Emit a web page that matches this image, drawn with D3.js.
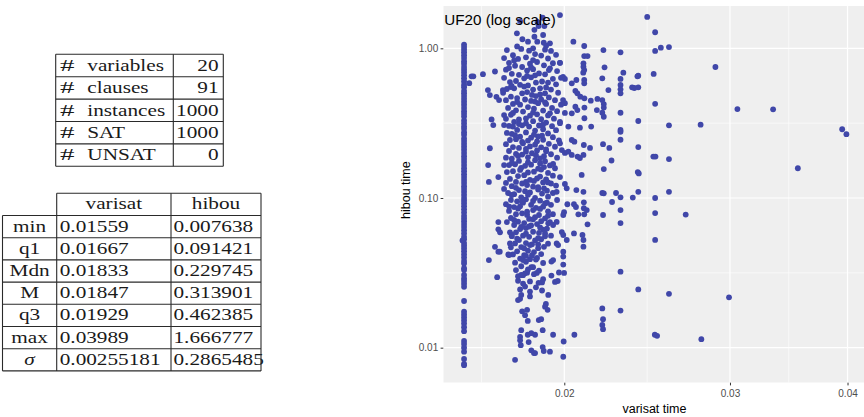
<!DOCTYPE html>
<html><head><meta charset="utf-8">
<script src="https://cdn.jsdelivr.net/npm/d3@7"></script>
<style>body{margin:0;background:#fff}svg{display:block}</style>
</head><body><svg id="c" width="864" height="417"></svg>
<script>
// ---------- table data ----------
const countLabels = ["variables", "clauses", "instances", "SAT", "UNSAT"];
const countValues = ["20", "91", "1000", "1000", "0"];
const statHeaders = ["varisat", "hibou"];
const statLabels = ["min", "q1", "Mdn", "M", "q3", "max", "σ"];
const statVarisat = ["0.01559", "0.01667", "0.01833", "0.01847", "0.01929", "0.03989", "0.00255181"];
const statHibou = ["0.007638", "0.091421", "0.229745", "0.313901", "0.462385", "1.666777", "0.2865485"];

// ---------- chart data ----------
const chartTitle = "UF20 (log scale)";
const xLabel = "varisat time";
const yLabel = "hibou time";
const xTicks = [0.02, 0.03, 0.04];
const yTicks = [0.01, 0.1, 1];

// vertical strip of runs at varisat ≈ 0.01565 s
const stripVarisat = 0.01565;
const stripHibou = [1.06,1.02,0.98,0.94,0.90,0.86,0.82,0.79,0.75,0.72,0.69,0.66,0.63,0.60,0.57,0.55,0.52,0.50,0.48,0.46,
0.44,0.42,0.40,0.38,0.365,0.35,0.33,0.315,0.30,0.29,0.275,0.265,0.25,0.24,0.23,0.22,0.21,0.20,0.19,0.182,
0.174,0.166,0.158,0.151,0.144,0.138,0.132,0.126,0.12,0.115,0.11,0.105,0.10,0.096,0.092,0.088,0.084,0.080,0.076,0.073,
0.070,0.067,0.064,0.061,0.058,0.055,0.053,0.050,0.048,0.046,0.044,0.042,0.040,0.038,0.0365,0.034,0.033,0.0306,0.029,0.0279,
0.0267,0.0255,0.0205,0.0174,0.0166,0.0159,0.0152,0.0145,0.0137,0.0129,0.0111,0.0106,0.0100,0.0094,0.0084,0.0078,0.007638];

// dense main cluster [varisat, hibou]
const clusterPoints = [
[0.01795,1.52],[0.01897,1.6],[0.01859,1.33],[0.01781,1.26],[0.01878,1.41],[0.01905,1.41],[0.01873,1.5],
[0.01805,1.15],[0.01859,1.195],[0.01899,1.227],[0.01872,1.107],[0.0183,1.107],[0.01902,1.09],[0.01931,1.08],
[0.01782,1.03],[0.01853,1.0],[0.01913,1.04],
[0.01738,0.974],[0.018,0.99],[0.01835,0.965],[0.01908,0.98],[0.01936,0.96],
[0.01764,0.90],[0.01862,0.915],[0.0189,0.895],[0.0196,0.905],
[0.01726,0.86],[0.01786,0.85],[0.01821,0.87],[0.01922,0.855],
[0.01747,0.80],[0.01839,0.79],[0.01871,0.81],[0.01945,0.795],[0.01979,0.80],
[0.01773,0.765],[0.01804,0.75],[0.01903,0.77],
[0.01734,0.72],[0.01826,0.71],[0.01853,0.725],[0.01926,0.715],[0.01965,0.705],
[0.01759,0.675],[0.0179,0.665],[0.0188,0.68],[0.01908,0.67],
[0.01726,0.635],[0.01813,0.63],[0.01844,0.64],[0.01945,0.625],[0.01984,0.635],
[0.01751,0.595],[0.01777,0.605],[0.01866,0.59],[0.01894,0.60],[0.01922,0.59],
[0.01795,0.57],[0.0183,0.565],[0.0196,0.575],
[0.01738,0.535],[0.01769,0.54],[0.01853,0.53],[0.01885,0.54],[0.01936,0.53],
[0.01722,0.505],[0.01804,0.50],[0.01826,0.51],[0.01908,0.50],[0.0197,0.505],
[0.01755,0.475],[0.01782,0.465],[0.01866,0.48],[0.01926,0.47],
[0.01734,0.45],[0.01817,0.455],[0.01844,0.445],[0.0189,0.455],[0.01955,0.45],
[0.01764,0.425],[0.01795,0.42],[0.01876,0.43],[0.01913,0.425],[0.01984,0.42],
[0.01743,0.40],[0.0183,0.405],[0.01857,0.395],[0.01941,0.40],
[0.01777,0.385],[0.01808,0.378],[0.01899,0.384],[0.01965,0.38],
[0.01755,0.36],[0.01839,0.355],[0.01871,0.362],[0.01922,0.356],
[0.01734,0.338],[0.0179,0.335],[0.01821,0.34],[0.0189,0.336],[0.0195,0.339],
[0.01769,0.322],[0.01853,0.326],[0.01913,0.319],[0.01979,0.323],
[0.01747,0.303],[0.01804,0.306],[0.01835,0.30],[0.0188,0.305],[0.01941,0.302],
[0.01782,0.285],[0.01862,0.282],[0.01899,0.288],[0.0196,0.284],
[0.01738,0.272],[0.01759,0.268],[0.01821,0.274],[0.01922,0.27],
[0.01795,0.257],[0.01844,0.253],[0.01876,0.258],[0.01945,0.255],
[0.01751,0.244],[0.01777,0.247],[0.0183,0.242],[0.01899,0.245],[0.01974,0.243],
[0.01734,0.229],[0.01808,0.232],[0.01862,0.227],[0.01926,0.23],
[0.01764,0.219],[0.0179,0.216],[0.01839,0.221],[0.0189,0.218],[0.01955,0.22],
[0.01747,0.206],[0.01821,0.204],[0.01871,0.208],[0.01913,0.205],
[0.01777,0.197],[0.01804,0.195],[0.01848,0.199],[0.01936,0.196],
[0.01734,0.186],[0.01759,0.183],[0.0183,0.187],[0.01885,0.184],[0.01965,0.186],
[0.0179,0.177],[0.01862,0.179],[0.01908,0.176],
[0.01747,0.166],[0.01773,0.168],[0.01817,0.164],[0.01844,0.167],[0.01931,0.165],
[0.018,0.159],[0.01876,0.157],[0.01903,0.161],[0.01955,0.158],
[0.01738,0.149],[0.01764,0.151],[0.0183,0.148],[0.01857,0.15],[0.01922,0.147],
[0.01786,0.14],[0.01813,0.142],[0.01885,0.139],[0.01945,0.141],
[0.01751,0.134],[0.01839,0.132],[0.01871,0.135],[0.01913,0.133],
[0.01734,0.126],[0.01777,0.128],[0.01804,0.125],[0.01899,0.127],[0.01936,0.125],
[0.01759,0.12],[0.01826,0.122],[0.01853,0.119],[0.0196,0.121],
[0.0179,0.113],[0.01817,0.111],[0.01876,0.114],[0.01917,0.112],
[0.01743,0.108],[0.01769,0.106],[0.01839,0.109],[0.01894,0.107],[0.01945,0.108],
[0.018,0.101],[0.01862,0.1],[0.01922,0.102],
[0.01755,0.097],[0.01782,0.095],[0.01821,0.098],[0.01885,0.096],[0.01965,0.097],
[0.01734,0.091],[0.01808,0.093],[0.01844,0.09],[0.01908,0.092],[0.01936,0.09],
[0.01769,0.087],[0.01795,0.088],[0.01866,0.086],[0.01899,0.0875],
[0.01747,0.082],[0.01826,0.081],[0.01853,0.083],[0.01922,0.0815],
[0.01777,0.078],[0.01804,0.079],[0.0188,0.077],[0.01945,0.078],
[0.01755,0.0735],[0.01835,0.0725],[0.01862,0.0745],[0.01908,0.073],
[0.01738,0.069],[0.01786,0.0695],[0.01813,0.068],[0.0189,0.07],[0.01931,0.069],
[0.01769,0.066],[0.01844,0.0655],[0.01871,0.067],
[0.01795,0.062],[0.01821,0.063],[0.01899,0.0615],[0.01917,0.0625],
[0.01777,0.059],[0.01853,0.0595],[0.0188,0.0585],
[0.01759,0.0556],[0.01808,0.056],[0.01835,0.055],[0.01908,0.0555],[0.01936,0.056],
[0.0179,0.0524],[0.01862,0.052],[0.0189,0.053],
[0.01773,0.0497],[0.01821,0.050],[0.01848,0.049],[0.01922,0.0495],
[0.01755,0.0468],[0.018,0.047],[0.01876,0.0462],[0.01903,0.0472],
[0.01782,0.044],[0.0183,0.0445],[0.01857,0.0435],
[0.01764,0.042],[0.01813,0.0415],[0.0189,0.0422],
[0.01795,0.0394],[0.01839,0.039],[0.01871,0.0398],
[0.01773,0.037],[0.01821,0.0375],[0.01899,0.0368],
[0.018,0.035],[0.01853,0.0345],
[0.01777,0.033],[0.0183,0.0333],[0.0188,0.0327],
[0.01808,0.0305],[0.01857,0.031],
[0.01786,0.028],[0.01839,0.0277],
[0.01817,0.0256],[0.01866,0.0253]
];

// additional overlapping runs in the core of the cluster [varisat, hibou]
const corePoints = [
[0.01853,0.835],[0.01769,0.83],[0.01747,0.739],[0.01844,0.745],[0.01931,0.735],
[0.01826,0.653],[0.01862,0.66],[0.01755,0.551],[0.01813,0.555],[0.01913,0.548],
[0.01848,0.488],[0.01885,0.492],[0.01782,0.438],[0.01862,0.441],[0.01908,0.435],
[0.01764,0.37],[0.01853,0.372],[0.01931,0.368],[0.0179,0.312],[0.01821,0.315],[0.01899,0.31],
[0.01773,0.263],[0.01857,0.265],[0.01894,0.261],[0.01804,0.237],[0.01871,0.239],
[0.01821,0.213],[0.01913,0.211],[0.01786,0.191],[0.01866,0.193],[0.01903,0.19],
[0.01759,0.171],[0.0183,0.173],[0.01885,0.17],[0.01795,0.154],[0.0189,0.155],
[0.01821,0.128],[0.01857,0.13],[0.01922,0.127],[0.01777,0.117],[0.01876,0.118],[0.01903,0.116],
[0.01759,0.1047],[0.0183,0.105],[0.01804,0.094],[0.01853,0.0955],[0.01917,0.093],
[0.01786,0.085],[0.01885,0.0845],[0.01826,0.0771],[0.01922,0.076],
[0.01769,0.0713],[0.01853,0.072],[0.018,0.064],[0.01835,0.0645],[0.01885,0.0635],
[0.01821,0.0577],[0.01908,0.058],[0.01782,0.0536],[0.01876,0.054],
[0.01839,0.0485],[0.01876,0.049],[0.01813,0.0461],[0.01848,0.0413],[0.01821,0.041],
[0.01808,0.0385],[0.01866,0.0388]
];

// scattered runs around and outside the cluster [varisat, hibou]
const outerPoints = [
[0.01559,0.052],[0.01594,0.65],[0.01585,0.585],
[0.01601,0.650],[0.01639,0.672],[0.01688,0.70],[0.01659,0.526],[0.01667,0.487],[0.01694,0.474],[0.01705,0.451],
[0.01721,0.526],[0.01758,0.56],[0.01674,0.335],[0.01681,0.307],[0.01726,0.358],[0.01726,0.307],[0.01764,0.30],
[0.01667,0.215],[0.0166,0.166],[0.01726,0.166],[0.01663,0.128],[0.01702,0.138],[0.01726,0.115],
[0.01748,0.0877],[0.01702,0.069],[0.01702,0.0618],[0.01709,0.059],[0.01751,0.059],[0.01758,0.0566],[0.01751,0.0497],
[0.01688,0.0472],[0.01702,0.0438],[0.01744,0.042],[0.01663,0.0385],[0.01708,0.0438],[0.01747,0.0416],[0.01697,0.0296],
[0.01786,0.030],[0.018,0.0306],[0.01817,0.0314],[0.01826,0.0317],[0.01845,0.0345],[0.01808,0.0268],[0.01878,0.0271],
[0.01795,0.0245],[0.01839,0.0237],[0.018,0.0225],[0.01795,0.0212],[0.01786,0.0208],[0.01839,0.022],
[0.01804,0.0175],[0.01817,0.0165],[0.01826,0.0179],[0.01829,0.0151],[0.01879,0.0153],[0.018,0.0131],
[0.01829,0.0122],[0.01845,0.0125],[0.01795,0.0118],[0.01795,0.0112],[0.01798,0.0104],[0.01833,0.0109],
[0.01845,0.0096],[0.01857,0.0092],[0.01773,0.0083],
[0.01979,1.666777],[0.0245,1.62],[0.02045,1.107],[0.021,1.036],[0.02201,0.974],[0.02295,0.94],
[0.021,0.888],[0.02117,0.888],[0.02096,0.794],[0.02096,0.753],[0.021,0.716],[0.02095,0.687],[0.02207,0.747],
[0.02311,0.687],[0.0206,0.614],[0.02037,0.584],[0.021,0.614],[0.021,0.584],[0.02195,0.630],
[0.02295,0.624],[0.02295,0.569],[0.02295,0.532],[0.02295,0.50],[0.02361,0.549],[0.02228,0.526],
[0.02055,0.52],[0.02065,0.50],[0.0208,0.475],[0.02101,0.463],[0.02134,0.447],[0.02169,0.459],
[0.02195,0.451],[0.02203,0.424],[0.02203,0.402],[0.02055,0.407],[0.02065,0.387],[0.02101,0.402],[0.02166,0.387],
[0.02195,0.371],[0.02203,0.349],[0.02295,0.371],[0.02037,0.368],[0.02101,0.341],[0.0202,0.30],[0.02136,0.30],[0.02295,0.285],
[0.01979,0.80],[0.01994,0.645],[0.02003,0.624],[0.01994,0.451],[0.02003,0.43],[0.02003,0.37],[0.01979,0.316],
[0.02498,1.28],[0.02498,0.96],[0.02533,1.01],[0.02584,1.02],[0.02895,0.75],[0.02397,0.656],[0.02392,0.65],
[0.02489,0.674],[0.02374,0.543],[0.02397,0.549],[0.02498,0.426],[0.03055,0.393],[0.03334,0.391],
[0.02397,0.327],[0.02584,0.306],[0.02792,0.309],[0.02295,0.277],[0.02295,0.245],[0.03948,0.288],[0.03989,0.267],
[0.02397,0.219],[0.02487,0.189],[0.025,0.189],[0.02584,0.182],[0.03542,0.158],[0.02394,0.149],[0.024,0.146],
[0.02295,0.101],[0.02365,0.1006],[0.02397,0.11],[0.02498,0.1],[0.02584,0.11],
[0.02295,0.0831],[0.02498,0.0793],[0.02692,0.0775],[0.02295,0.068],[0.02498,0.0525],[0.02295,0.0322],
[0.02397,0.0245],[0.02584,0.0229],[0.02993,0.0217],[0.02295,0.0177],[0.02496,0.0122],[0.0251,0.0120],[0.02797,0.0114],
[0.02078,0.295],[0.02199,0.229],[0.02233,0.216],[0.0213,0.216],[0.02098,0.226],[0.02037,0.244],[0.0205,0.238],
[0.01979,0.232],[0.01988,0.209],[0.02003,0.2],[0.0202,0.204],[0.02037,0.194],[0.02066,0.189],[0.02078,0.185],[0.02096,0.194],
[0.02245,0.178],[0.02203,0.156],[0.02087,0.1425],[0.01979,0.138],[0.01946,0.169],[0.02003,0.124],[0.02012,0.116],
[0.0206,0.113],[0.02096,0.11],[0.02195,0.108],[0.02203,0.1075],[0.0227,0.108],[0.01963,0.11],
[0.02015,0.0908],[0.02048,0.0908],[0.02058,0.0871],[0.02098,0.0936],[0.02098,0.0855],[0.02248,0.094],[0.02113,0.0831],
[0.01999,0.0804],[0.01995,0.077],[0.0207,0.0778],[0.021,0.0778],[0.02199,0.077],[0.02117,0.0667],
[0.01923,0.0677],[0.01946,0.066],[0.01963,0.0692],[0.01988,0.0592],[0.01995,0.0566],[0.02048,0.058],
[0.02091,0.0566],[0.02096,0.0524],[0.02012,0.0524],[0.01963,0.0497],[0.0197,0.0485],[0.02096,0.0473],[0.01995,0.0438],
[0.01995,0.0406],[0.01995,0.0359],[0.01946,0.0385],[0.01938,0.0376],[0.0187,0.0316],[0.01938,0.0303],
[0.01974,0.0318],[0.01999,0.0316],[0.01894,0.0273],[0.01899,0.0287],[0.01955,0.0275],[0.01968,0.0279],
[0.01894,0.0241],[0.01923,0.0225],[0.01912,0.0196],[0.01908,0.0188],[0.0192,0.0179],[0.02195,0.0183],
[0.0189,0.0155],[0.02199,0.0155],[0.02195,0.0142],[0.02199,0.0133],[0.01897,0.0131],[0.01946,0.0122],
[0.0205,0.0122],[0.01997,0.0110],[0.01862,0.0122],[0.01897,0.0101],[0.01902,0.0095],[0.01931,0.0094],
[0.01862,0.0092],[0.01995,0.0087]
];

const points = stripHibou.map(h => [stripVarisat, h]).concat(clusterPoints, corePoints, outerPoints);

// ---------- drawing ----------
const svg = d3.select("#c");
const serif = "'Liberation Serif','Times New Roman',serif";
const sans = "'Liberation Sans',Arial,sans-serif";
const lineCol = "#2a2a2a";
const hs = 1.25; // horizontal stretch of the table typography

function hline(g, x1, x2, y) { g.append("line").attr("x1", x1).attr("x2", x2).attr("y1", y).attr("y2", y).attr("stroke", lineCol).attr("stroke-width", 1.1); }
function vline(g, x, y1, y2) { g.append("line").attr("x1", x).attr("x2", x).attr("y1", y1).attr("y2", y2).attr("stroke", lineCol).attr("stroke-width", 1.1); }
function txt(g, s, x, y, anchor, sx, italic) {
  return g.append("text").attr("transform", `translate(${x},${y}) scale(${sx || hs},1)`)
    .attr("text-anchor", anchor).attr("font-family", serif).attr("font-size", 17)
    .attr("font-style", italic ? "italic" : "normal").attr("fill", "#1a1a1a").text(s);
}

// table 1
const t1 = svg.append("g");
const t1Top = 54.3, t1H = 22.4, t1X = [55.7, 173.3, 223.3];
countLabels.forEach((lab, i) => {
  const yb = t1Top + i * t1H + 16.4;
  txt(t1, "#", 60, yb, "start", 1.7);
  txt(t1, lab, 87.3, yb, "start");
  txt(t1, countValues[i], 218.6, yb, "end");
});
for (let i = 0; i <= countLabels.length; i++) hline(t1, t1X[0], t1X[2], t1Top + i * t1H);
t1X.forEach(x => vline(t1, x, t1Top, t1Top + countLabels.length * t1H));

// table 2
const t2 = svg.append("g");
const t2Top = 193.3, t2H = 22.2, t2X = [2.5, 56.7, 171, 261];
txt(t2, statHeaders[0], (t2X[1] + t2X[2]) / 2, t2Top + 16, "middle");
txt(t2, statHeaders[1], (t2X[2] + t2X[3]) / 2, t2Top + 16, "middle");
statLabels.forEach((lab, i) => {
  const yb = t2Top + (i + 1) * t2H + 16;
  txt(t2, lab, (t2X[0] + t2X[1]) / 2, yb, "middle", hs, lab === "σ");
  txt(t2, statVarisat[i], t2X[1] + 3, yb, "start");
  txt(t2, statHibou[i], t2X[2] + 2.5, yb, "start");
});
const t2Bot = t2Top + (statLabels.length + 1) * t2H;
hline(t2, t2X[1], t2X[3], t2Top);
for (let i = 1; i <= statLabels.length + 1; i++) hline(t2, t2X[0], t2X[3], t2Top + i * t2H);
vline(t2, t2X[0], t2Top + t2H, t2Bot);
t2X.slice(1).forEach(x => vline(t2, x, t2Top, t2Bot));

// scatter
const pL = 443.3, pR = 865.6, pT = -2.4, pB = 382.7;
function expandLog(ext) { const a = Math.log10(ext[0]), b = Math.log10(ext[1]), d = (b - a) * 0.05; return [10 ** (a - d), 10 ** (b + d)]; }
const x = d3.scaleLog().domain(expandLog(d3.extent(points, d => d[0]))).range([pL, pR]);
const y = d3.scaleLog().domain(expandLog(d3.extent(points, d => d[1]))).range([pB, pT]);

svg.append("defs").append("clipPath").attr("id", "panel")
  .append("rect").attr("x", pL).attr("y", 6).attr("width", 864 - pL).attr("height", pB - 6);
const pg = svg.append("g").attr("clip-path", "url(#panel)");
pg.append("rect").attr("x", pL).attr("y", 6).attr("width", 864 - pL).attr("height", pB - 6).attr("fill", "#efefef");

function minors(t) {
  const m = [Math.sqrt(t[0] * t[0] * t[0] / t[1])];
  for (let i = 0; i < t.length - 1; i++) m.push(Math.sqrt(t[i] * t[i + 1]));
  m.push(Math.sqrt(t[t.length - 1] ** 3 / t[t.length - 2]));
  return m;
}
minors(xTicks).forEach(v => pg.append("line").attr("x1", x(v)).attr("x2", x(v)).attr("y1", pT).attr("y2", pB).attr("stroke", "#fff").attr("stroke-width", 0.6));
minors(yTicks).forEach(v => pg.append("line").attr("x1", pL).attr("x2", pR).attr("y1", y(v)).attr("y2", y(v)).attr("stroke", "#fff").attr("stroke-width", 0.6));
xTicks.forEach(v => pg.append("line").attr("x1", x(v)).attr("x2", x(v)).attr("y1", pT).attr("y2", pB).attr("stroke", "#fff").attr("stroke-width", 1.2));
yTicks.forEach(v => pg.append("line").attr("x1", pL).attr("x2", pR).attr("y1", y(v)).attr("y2", y(v)).attr("stroke", "#fff").attr("stroke-width", 1.2));

pg.selectAll("circle.pt").data(points).join("circle").attr("class", "pt")
  .attr("cx", d => x(d[0])).attr("cy", d => y(d[1])).attr("r", 2.9).attr("fill", "#4047a9");

svg.append("text").attr("x", 444.3).attr("y", 25).attr("font-family", sans).attr("font-size", 15.2)
  .attr("fill", "#000").text(chartTitle);

const fmt = d3.format(".2f");
const ax = svg.append("g").attr("transform", `translate(0,${pB})`)
  .call(d3.axisBottom(x).tickValues(xTicks).tickFormat(fmt).tickSize(2.7).tickPadding(4.2));
const ay = svg.append("g").attr("transform", `translate(${pL},0)`)
  .call(d3.axisLeft(y).tickValues(yTicks).tickFormat(fmt).tickSize(2.7).tickPadding(2.4));
[ax, ay].forEach(a => {
  a.select(".domain").remove();
  a.selectAll(".tick line").attr("stroke", "#333").attr("stroke-width", 1);
  a.selectAll(".tick text").attr("fill", "#4d4d4d").attr("font-family", sans).attr("font-size", 10);
});

svg.append("text").attr("x", (pL + pR) / 2).attr("y", 413).attr("text-anchor", "middle")
  .attr("font-family", sans).attr("font-size", 12.5).attr("fill", "#000").text(xLabel);
svg.append("text").attr("transform", `translate(409.5,${(pT + pB) / 2}) rotate(-90)`).attr("text-anchor", "middle")
  .attr("font-family", sans).attr("font-size", 12.5).attr("fill", "#000").text(yLabel);
</script></body></html>
